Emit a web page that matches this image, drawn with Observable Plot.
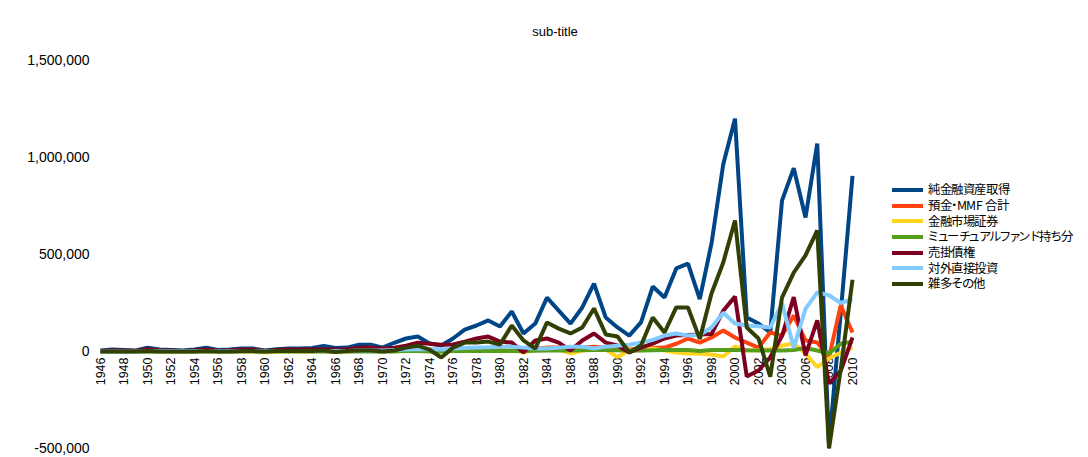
<!DOCTYPE html>
<html><head><meta charset="utf-8">
<script src="https://cdn.jsdelivr.net/npm/d3@7"></script>
<script src="https://cdn.jsdelivr.net/npm/@observablehq/plot@0.6"></script>
<style>
@font-face{font-family:"LegendJP";src:local("Noto Sans CJK JP"),local("Noto Sans CJK JP Regular"),local("NotoSansCJKjp-Regular");ascent-override:86%;descent-override:14%;line-gap-override:0%;}
body{margin:0;background:#fff;font-family:"Liberation Sans",Arial,sans-serif;color:#000;}
#wrap{position:relative;width:1088px;height:457px;overflow:hidden;}
#chart{position:absolute;left:0;top:0;}
#title{position:absolute;left:0;width:1110px;top:24px;text-align:center;font-size:13px;}
#legend{position:absolute;left:892px;top:182px;font-size:12.4px;letter-spacing:-0.4px;font-family:"LegendJP","Noto Sans CJK JP",sans-serif;font-feature-settings:"palt";}
.row{height:15.7px;line-height:13px;display:flex;align-items:center;white-space:nowrap;}
.sw{width:31px;height:4px;margin-right:5px;flex:none;}
</style>
</head><body>
<div id="wrap"><div id="chart"></div><div id="title">sub-title</div><div id="legend"></div></div>
<script>
// Years (category axis)
const years = [1946,1947,1948,1949,1950,1951,1952,1953,1954,1955,1956,1957,1958,1959,1960,1961,1962,1963,1964,1965,1966,1967,1968,1969,1970,1971,1972,1973,1974,1975,1976,1977,1978,1979,1980,1981,1982,1983,1984,1985,1986,1987,1988,1989,1990,1991,1992,1993,1994,1995,1996,1997,1998,1999,2000,2001,2002,2003,2004,2005,2006,2007,2008,2009,2010];
const tickYears = [1946,1948,1950,1952,1954,1956,1958,1960,1962,1964,1966,1968,1970,1972,1974,1976,1978,1980,1982,1984,1986,1988,1990,1992,1994,1996,1998,2000,2002,2004,2006,2008,2010];
const yTicks = [-500000,0,500000,1000000,1500000];

// Series names and colours
const names = ["純金融資産取得","預金・MMF 合計","金融市場証券","ミューチュアルファンド持ち分","売掛債権","対外直接投資","雑多その他"];
const colors = ["#004586","#ff420e","#ffd320","#579d1c","#7e0021","#83caff","#314004"];

// Values (in thousands)
const netAcquisition = [5,10,8,5,20,10,8,5,10,20, 8,10,15,15,5,12,15,15,18,28, 18,20,35,35,20,45,67,77,41,31, 67,113,134,160,129,206,93,144,278,211, 144,227,350,175,124,82,150,335,278,428, 453,270,557,965,1200,175,144,98,778,945, 691,1072,-480,200,905];
const depositsMMF = [2,3,3,2,5,3,3,2,3,5, 3,3,4,4,2,3,4,4,5,6, 5,5,8,8,5,8,12,12,10,8, 10,12,15,15,12,18,15,15,20,20, 18,20,25,20,18,10,15,18,20,40, 67,46,72,108,72,46,20,98,82,185, 57,46,-30,237,98];
const moneyMarket = [0,0,0,0,2,0,0,0,0,2, 0,0,0,0,-5,0,0,0,0,0, 0,0,2,2,0,2,5,5,2,0, 5,5,8,10,5,10,-5,10,15,10, -10,5,15,10,-28,5,10,15,5,-5, -10,-12,-15,-26,26,5,8,12,31,41, -10,-80,-36,-5,20];
const mutualFunds = [0,0,0,0,0,0,0,0,0,0, 0,0,0,0,0,0,0,0,0,0, 0,0,0,0,0,0,2,2,0,0, 2,2,2,3,3,3,3,4,5,5, 5,6,8,8,6,4,5,6,8,8, 8,3,8,8,8,6,5,5,5,8, 18,5,-10,40,50];
const tradeReceivables = [2,5,5,3,12,6,5,3,6,10, 5,6,10,10,3,8,10,10,10,12, 10,12,20,20,15,20,30,45,40,35, 36,51,67,77,51,46,-5,57,67,46, 5,57,93,46,31,-5,20,41,67,82, 85,88,90,210,283,-129,-98,-30,80,280, -20,160,-165,-100,72];
const foreignDirect = [0,0,0,0,2,2,2,2,2,2, 2,2,2,2,2,2,2,3,3,3, 3,3,5,5,5,8,10,12,12,10, 15,18,20,22,25,25,20,15,15,20, 25,25,15,25,30,35,46,60,82,93, 82,85,124,200,144,134,130,124,250,20, 220,305,290,250,270];
const miscOther = [0,0,0,0,3,0,0,0,0,2, 0,0,2,2,0,2,2,2,3,5, -3,2,5,5,0,5,20,30,10,-31, 20,46,46,51,36,134,57,15,150,118, 93,124,222,88,77,-5,31,175,98,227, 227,65,299,459,675,124,67,-130,278,407, 495,624,-500,-90,370];

const seriesValues = [netAcquisition, depositsMMF, moneyMarket, mutualFunds, tradeReceivables, foreignDirect, miscOther];

const rows = [];
seriesValues.forEach((vals, s) => {
  years.forEach((yr, i) => rows.push({year: yr, value: vals[i] * 1000, name: names[s]}));
});

const plot = Plot.plot({
  width: 1088,
  height: 457,
  marginTop: 60,
  marginBottom: 9,
  marginLeft: 100,
  marginRight: 236,
  style: {fontFamily: '"Liberation Sans", Arial, sans-serif', fontSize: "14px", color: "#000", background: "#fff"},
  x: {domain: [1946, 2010], axis: null},
  y: {domain: [-500000, 1500000], ticks: yTicks, tickFormat: d => d.toLocaleString("en-US"), tickSize: 0, tickPadding: 11, label: null},
  color: {domain: names, range: colors},
  marks: [
    Plot.text(tickYears, {x: d => d, y: 0, text: d => String(d), rotate: -90, textAnchor: "end", dy: 6, fontSize: 12.5, fill: "#000"}),
    Plot.line(rows, {x: "year", y: "value", z: "name", stroke: "name", strokeWidth: 4, strokeLinejoin: "miter", strokeLinecap: "butt"})
  ]
});
document.getElementById("chart").appendChild(plot);

const legend = document.getElementById("legend");
names.forEach((n, i) => {
  const r = document.createElement("div");
  r.className = "row";
  r.innerHTML = `<span class="sw" style="background:${colors[i]}"></span><span>${n}</span>`;
  legend.appendChild(r);
});
</script>
</body></html>
